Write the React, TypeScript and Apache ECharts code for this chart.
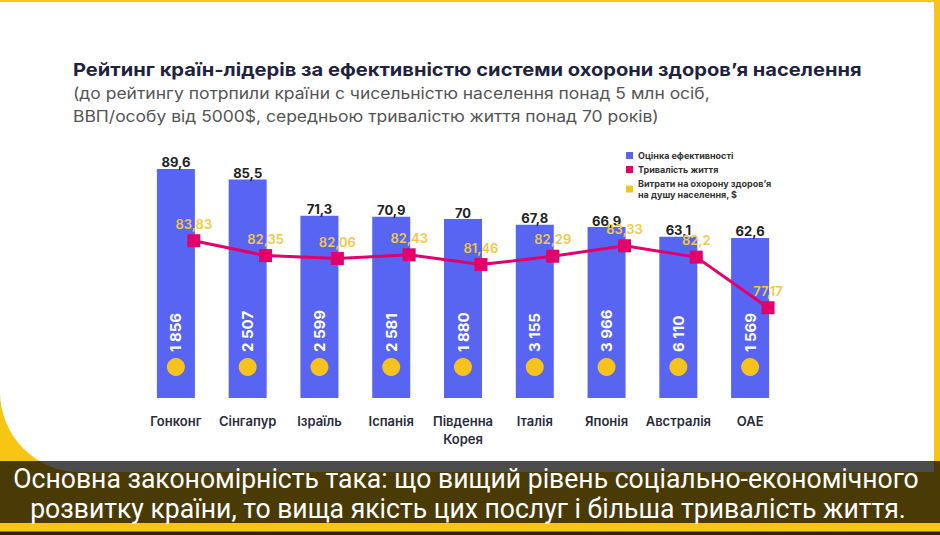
import React, { useEffect, useRef } from 'react';
import * as echarts from 'echarts';

const CATEGORIES = ['Гонконг', 'Сінгапур', 'Ізраїль', 'Іспанія', 'Південна\nКорея', 'Італія', 'Японія', 'Австралія', 'ОАЕ'];
const SCORE = [89.6, 85.5, 71.3, 70.9, 70, 67.8, 66.9, 63.1, 62.6];
const LIFE = [83.83, 82.35, 82.06, 82.43, 81.46, 82.29, 83.33, 82.2, 77.17];
const SPEND = [1856, 2507, 2599, 2581, 1880, 3155, 3966, 6110, 1569];
const SERIES_NAMES = ['Оцінка ефективності', 'Тривалість життя', 'Витрати на охорону здоров’я\nна душу населення, $'];
const TITLE = 'Рейтинг країн-лідерів за ефективністю системи охорони здоров’я населення';
const SUBTITLE = [
  '(до рейтингу потрпили країни с чисельністю населення понад 5 млн осіб,',
  'ВВП/особу від 5000$, середньою тривалістю життя понад 70 років)',
];
const CAPTION = [
  'Основна закономірність така: що вищий рівень соціально-економічного',
  'розвитку країни, то вища якість цих послуг і більша тривалість життя.',
];

const BLUE = '#5864f2';
const MAGENTA = '#e2006b';
const YELLOW = '#f6c21c';
const LINE_SHIFT = 0.25;

const comma = (v: number) => String(v).replace('.', ',');
const thousands = (v: number) => String(v).replace(/\B(?=(\d{3})+(?!\d))/g, ' ');

function fitScale(text: string, font: string, target: number) {
  const c = document.createElement('canvas').getContext('2d');
  if (!c) return 1;
  c.font = font;
  const w = c.measureText(text).width;
  return w > 0 ? target / w : 1;
}

export default function App() {
  const ref = useRef<HTMLDivElement>(null);
  useEffect(() => {
    if (!ref.current) return;
    const chart = echarts.init(ref.current, undefined, { renderer: 'svg' });
    const titleFont = '700 18px Inter';
    const subFont = '400 16px Inter';
    const capFont = '400 27px Roboto';
    const titleScale = fitScale(TITLE, titleFont, 789);
    const subScale = fitScale(SUBTITLE[0], subFont, 637);
    const capScale = fitScale(CAPTION[0], capFont, 906);

    chart.setOption({
      animation: false,
      backgroundColor: 'transparent',
      textStyle: { fontFamily: 'Inter' },
      graphic: [
        { type: 'rect', z: -10, shape: { x: 0, y: 2, width: 934, height: 470, r: [0, 0, 0, 80] }, style: { fill: '#ffffff' } },
        { type: 'text', z: 10, x: 73, y: 70, scaleX: titleScale, style: { text: TITLE, font: titleFont, fill: '#1f2340', align: 'left', verticalAlign: 'middle' } },
        { type: 'text', z: 10, x: 73, y: 93, scaleX: subScale, style: { text: SUBTITLE[0], font: subFont, fill: '#555555', align: 'left', verticalAlign: 'middle' } },
        { type: 'text', z: 10, x: 73, y: 116, scaleX: subScale, style: { text: SUBTITLE[1], font: subFont, fill: '#555555', align: 'left', verticalAlign: 'middle' } },
        { type: 'rect', z: 100, shape: { x: 0, y: 461, width: 940, height: 62 }, style: { fill: 'rgba(0,0,0,0.7)' } },
        { type: 'rect', z: 100, shape: { x: 0, y: 531.5, width: 940, height: 3.5 }, style: { fill: '#2b2410' } },
        { type: 'text', z: 101, x: 466, y: 479, scaleX: capScale, style: { text: CAPTION[0], font: capFont, fill: '#ffffff', align: 'center', verticalAlign: 'middle' } },
        { type: 'text', z: 101, x: 468, y: 509, scaleX: capScale, style: { text: CAPTION[1], font: capFont, fill: '#ffffff', align: 'center', verticalAlign: 'middle' } },
      ],
      legend: {
        orient: 'vertical',
        left: 621,
        top: 145,
        icon: 'rect',
        itemWidth: 7,
        itemHeight: 7,
        itemGap: 3,
        data: SERIES_NAMES,
        selectedMode: false,
        textStyle: { fontSize: 9, fontWeight: 'bold', color: '#333', fontFamily: 'Inter', lineHeight: 11 },
      },
      grid: { left: 140, right: 154, top: 142.4, bottom: 137 },
      xAxis: [
        {
          type: 'category',
          data: CATEGORIES,
          axisLine: { show: false },
          axisTick: { show: false },
          axisLabel: { margin: 14, fontSize: 13, fontWeight: 600, color: '#2b2b3b', fontFamily: 'Inter', lineHeight: 18, interval: 0 },
        },
        { type: 'value', min: -0.5, max: CATEGORIES.length - 0.5, show: false },
      ],
      yAxis: [
        { type: 'value', min: 0, max: 100, show: false },
        { type: 'value', min: 68.2, max: 93.6, show: false },
      ],
      series: [
        {
          name: SERIES_NAMES[0],
          type: 'bar',
          data: SCORE,
          barWidth: 38,
          itemStyle: { color: BLUE },
          label: {
            show: true,
            position: 'top',
            distance: 2,
            offset: [0, 2],
            formatter: (p: any) => comma(p.value),
            fontSize: 13,
            fontWeight: 'bold',
            color: '#222',
            fontFamily: 'Inter',
          },
        },
        {
          name: SERIES_NAMES[1],
          type: 'line',
          xAxisIndex: 1,
          yAxisIndex: 1,
          data: LIFE.map((v, i) => [i + LINE_SHIFT, v]),
          symbol: 'rect',
          symbolSize: 13,
          lineStyle: { color: MAGENTA, width: 3 },
          itemStyle: { color: MAGENTA },
          label: {
            show: true,
            position: 'top',
            distance: 4,
            formatter: (p: any) => comma(p.value[1]),
            fontSize: 13,
            fontWeight: 600,
            color: '#f2c744',
            fontFamily: 'Inter',
          },
        },
        {
          name: SERIES_NAMES[2],
          type: 'scatter',
          xAxisIndex: 0,
          yAxisIndex: 0,
          data: SPEND.map((v, i) => [i, 0, v]),
          symbol: 'circle',
          symbolSize: 18,
          symbolOffset: [0, -31],
          itemStyle: { color: YELLOW, opacity: 1 },
          z: 5,
          label: {
            show: true,
            position: 'top',
            distance: 6,
            rotate: 90,
            align: 'left',
            verticalAlign: 'middle',
            formatter: (p: any) => thousands(p.value[2]),
            fontSize: 15,
            fontWeight: 'bold',
            color: '#ffffff',
            fontFamily: 'Inter',
          },
        },
      ],
    });
    return () => chart.dispose();
  }, []);
  return (
    <div style={{ position: 'fixed', left: 0, top: 0, width: 940, height: 535, background: '#f7c514' }}>
      <div ref={ref} style={{ width: 940, height: 535 }} />
    </div>
  );
}
